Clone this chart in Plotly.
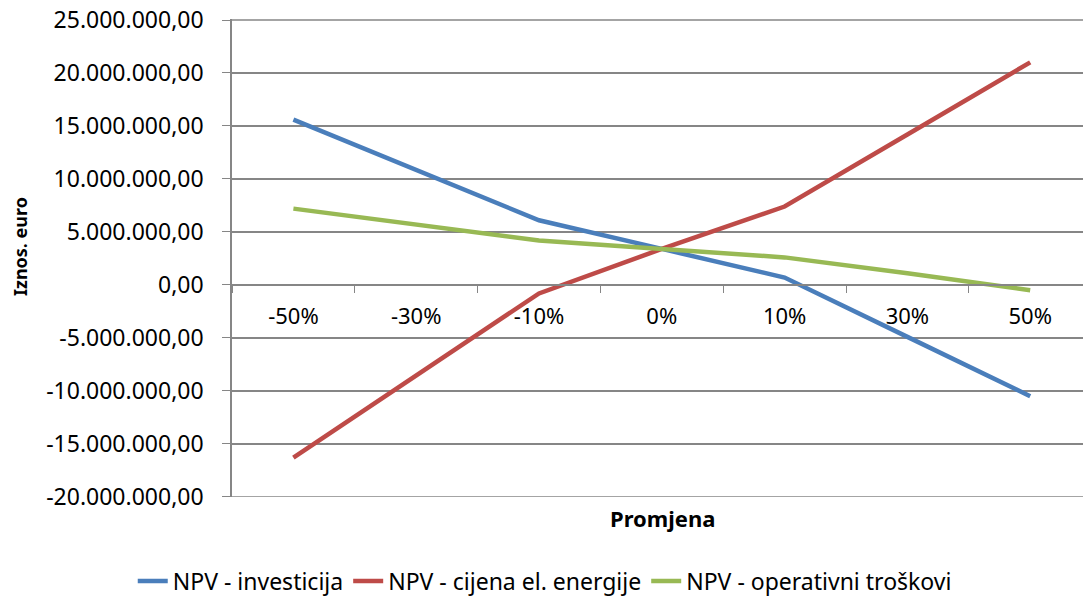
import plotly.graph_objects as go

# data
categories = ['-50%', '-30%', '-10%', '0%', '10%', '30%', '50%']
npv_investicija = [15600000, 10800000, 6100000, 3400000, 700000, -4900000, -10500000]
npv_cijena = [-16300000, -8500000, -800000, 3400000, 7400000, 14200000, 21000000]
npv_operativni = [7200000, 5700000, 4200000, 3400000, 2600000, 1100000, -500000]

y_ticks = [25000000, 20000000, 15000000, 10000000, 5000000, 0,
           -5000000, -10000000, -15000000, -20000000]
y_tick_labels = ['25.000.000,00', '20.000.000,00', '15.000.000,00', '10.000.000,00',
                 '5.000.000,00', '0,00', '-5.000.000,00', '-10.000.000,00',
                 '-15.000.000,00', '-20.000.000,00']

FONT = 'Noto Sans'
W, H = 1083, 603
L, R, T, B = 232, 0, 19, 106
PW, PH = W - L - R, H - T - B
GRID = '#868686'

fig = go.Figure()
for name, vals, color in [
    ('NPV - investicija', npv_investicija, '#4A7EBB'),
    ('NPV - cijena el. energije', npv_cijena, '#BE4B48'),
    ('NPV - operativni troškovi', npv_operativni, '#98B954'),
]:
    fig.add_trace(go.Scatter(
        x=categories, y=vals, name=name, mode='lines',
        line=dict(color=color, width=4.5),
    ))

y_min, y_max = -20000000, 25000000
# pad the top by ~1px
y_top = y_max + (y_max - y_min) / 477
zero_pos = (0 - y_min) / (y_top - y_min)

fig.update_layout(
    width=W, height=H,
    margin=dict(l=L, r=R, t=T, b=B, autoexpand=False),
    paper_bgcolor='white',
    plot_bgcolor='white',
    font=dict(family=FONT, size=22, color='black'),
    xaxis=dict(
        type='category',
        range=[-0.5, 6.43],
        anchor='free',
        position=zero_pos,
        tickson='boundaries',
        ticks='outside',
        ticklen=7,
        tickcolor=GRID,
        showline=True,
        linecolor=GRID,
        linewidth=1.5,
        showgrid=False,
        zeroline=False,
        automargin=False,
        tickfont=dict(size=22),
        ticklabelstandoff=12,
    ),
    yaxis=dict(
        range=[y_min - 10000, y_top],
        tickvals=y_ticks,
        ticktext=y_tick_labels,
        ticks='outside',
        ticklen=8,
        tickcolor=GRID,
        showline=True,
        linecolor=GRID,
        linewidth=1.5,
        showgrid=True,
        gridcolor=GRID,
        gridwidth=1.5,
        zeroline=False,
        automargin=False,
        ticklabeloverflow='allow',
        tickfont=dict(size=23),
        ticklabelstandoff=14,
    ),
    legend=dict(
        orientation='h',
        xref='container', x=0.503, xanchor='center',
        yref='container', y=(H - 581) / H, yanchor='middle',
        font=dict(size=23),
        tracegroupgap=0,
    ),
)

# plotly drops the gridlines at the plot edges, so draw them explicitly
for y_edge in (y_min, y_max):
    fig.add_shape(
        type='line', xref='x domain', x0=0, x1=1, yref='y', y0=y_edge, y1=y_edge,
        line=dict(color=GRID, width=1.5), layer='below',
    )

# axis titles as annotations for exact placement
fig.add_annotation(
    text='<b>Promjena</b>', x=(662 - L) / PW, xref='paper', xanchor='center',
    y=-(518 - (T + PH)) / PH, yref='paper', yanchor='middle', showarrow=False,
    font=dict(size=22),
)
fig.add_annotation(
    text='<b>Iznos. euro</b>', x=(20 - L) / PW, xref='paper', xanchor='center',
    y=(T + PH - 247) / PH, yref='paper', yanchor='middle', textangle=-90,
    showarrow=False, font=dict(size=18),
)

# drop the default 8px body margin so the figure sits at the window corner
fig.write_html('out.html', config={'displayModeBar': False},
               post_script="document.body.style.margin='0';")
